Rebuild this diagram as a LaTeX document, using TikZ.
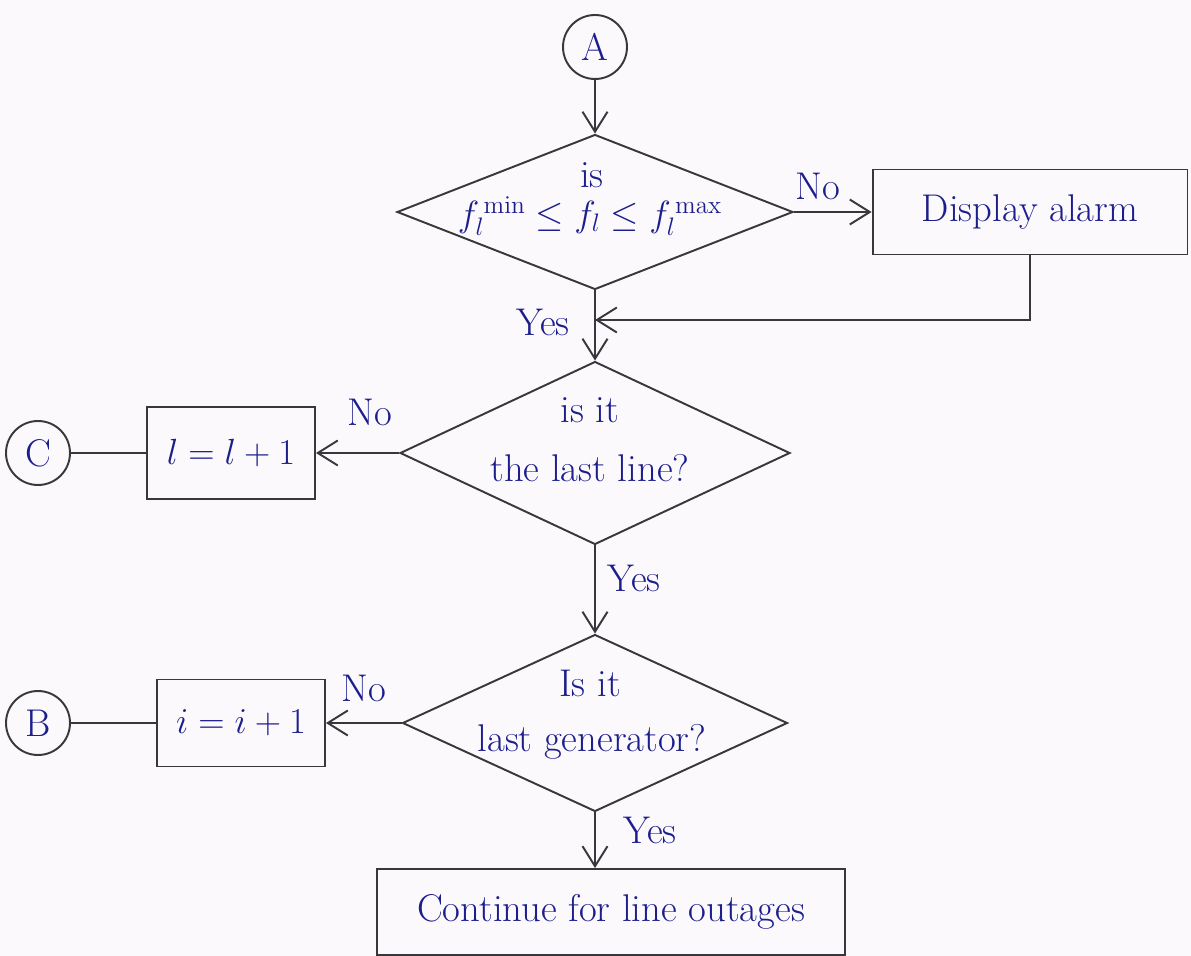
\documentclass[tikz,border=0pt]{standalone}
\usetikzlibrary{shapes.geometric,arrows.meta}
\definecolor{paper}{RGB}{252,249,253}
\definecolor{ink}{RGB}{28,30,140}
\definecolor{pencil}{RGB}{55,55,60}
\begin{document}
\begin{tikzpicture}[x=0.02cm,y=-0.02cm,
  every node/.style={font=\fontsize{22}{26}\selectfont, text=ink},
  flow/.style={draw=pencil, line width=1.1pt},
  arr/.style={flow, -{Straight Barb[length=4mm,width=5mm,line width=1.1pt]}},
  decision/.style={diamond, draw=pencil, line width=1.1pt, inner sep=0pt},
  procbox/.style={rectangle, draw=pencil, line width=1.1pt, inner sep=0pt},
  conn/.style={circle, draw=pencil, line width=1.1pt, minimum size=1.28cm, inner sep=0pt},
  lbl/.style={inner sep=1pt}]
  \fill[paper] (0,0) rectangle (1191,956);
  \useasboundingbox (0,0) rectangle (1191,956);

  % decisions
  \node[decision, minimum width=7.92cm, minimum height=3.1cm] (d1) at (595,212) {};
  \node[decision, minimum width=7.8cm, minimum height=3.66cm] (d2) at (595,453) {};
  \node[decision, minimum width=7.7cm, minimum height=3.54cm] (d3) at (595,723) {};

  \node (d1a) at (592,175) {is};
  \node (d1b) at (590,216) {$f_l^{\,\mathrm{min}} \le f_l \le f_l^{\,\mathrm{max}}$};
  \node (d2a) at (590,410) {is it};
  \node (d2b) at (590,468) {the last line?};
  \node (d3a) at (590,683) {Is it};
  \node (d3b) at (592,742) {last generator?};

  % connectors
  \node[conn] (A) at (595,47) {A};
  \node[conn] (C) at (38,453) {C};
  \node[conn] (B) at (38,723) {B};

  % processes
  \node[procbox, minimum width=6.3cm, minimum height=1.7cm] (disp) at (1030,212) {Display alarm};
  \node[procbox, minimum width=3.36cm, minimum height=1.84cm] (bl) at (231,453) {$l = l + 1$};
  \node[procbox, minimum width=3.36cm, minimum height=1.74cm] (bi) at (241,723) {$i = i + 1$};
  \node[procbox, minimum width=9.36cm, minimum height=1.72cm] (fin) at (611,912) {Continue for line outages};

  % flow lines
  \draw[arr] (A.south) -- (d1.north);
  \draw[arr] (d1.east) -- (disp.west);
  \node[lbl] (no1) at (818,186) {No};

  \coordinate (join) at (595,320);
  \draw[arr] (disp.south) |- (join);
  \draw[arr] (d1.south) -- (d2.north);
  \node[lbl] (yes1) at (543,322) {Yes};

  \draw[arr] (d2.west) -- (bl.east);
  \node[lbl] (no2) at (370,412) {No};
  \draw[flow] (C.east) -- (bl.west);

  \draw[arr] (d2.south) -- (d3.north);
  \node[lbl] (yes2) at (634,578) {Yes};

  \draw[arr] (d3.west) -- (bi.east);
  \node[lbl] (no3) at (364,688) {No};
  \draw[flow] (B.east) -- (bi.west);

  \draw[arr] (d3.south) -- (d3.south |- fin.north);
  \node[lbl] (yes3) at (650,830) {Yes};
\end{tikzpicture}
\end{document}
